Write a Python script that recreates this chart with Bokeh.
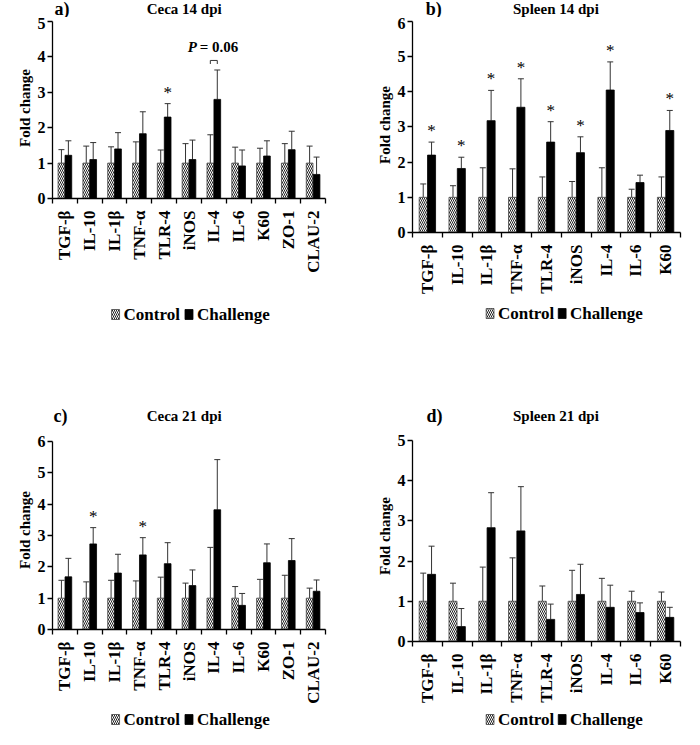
import math
from bokeh.plotting import figure
from bokeh.models import (Range1d, FixedTicker, ColumnDataSource, Whisker, TeeHead)
from bokeh.layouts import column, row
from bokeh.core.properties import value
from bokeh.embed import file_html
from bokeh.resources import INLINE

FONT = "Liberation Serif"

# ---------------- data ----------------
panel_letters = ["a)", "b)", "c)", "d)"]
panel_titles = ["Ceca 14 dpi", "Spleen 14 dpi", "Ceca 21 dpi", "Spleen 21 dpi"]
series_names = ["Control", "Challenge"]

cats_a = ["TGF-β", "IL-10", "IL-1β", "TNF-α", "TLR-4", "iNOS", "IL-4", "IL-6", "K60", "ZO-1", "CLAU-2"]
ctrl_a = [1, 1, 1, 1, 1, 1, 1, 1, 1, 1, 1]
ctrl_err_a = [1.38, 1.48, 1.46, 1.60, 1.37, 1.55, 1.80, 1.45, 1.42, 1.55, 1.48]
chal_a = [1.22, 1.10, 1.40, 1.83, 2.30, 1.10, 2.80, 0.92, 1.20, 1.38, 0.68]
chal_err_a = [1.63, 1.58, 1.86, 2.45, 2.68, 1.65, 3.63, 1.37, 1.63, 1.90, 1.17]
sig_a = [0, 0, 0, 0, 1, 0, 0, 0, 0, 0, 0]

cats_b = ["TGF-β", "IL-10", "IL-1β", "TNF-α", "TLR-4", "iNOS", "IL-4", "IL-6", "K60"]
ctrl_b = [1, 1, 1, 1, 1, 1, 1, 1, 1]
ctrl_err_b = [1.38, 1.33, 1.84, 1.81, 1.58, 1.45, 1.84, 1.23, 1.58]
chal_b = [2.20, 1.82, 3.18, 3.56, 2.57, 2.27, 4.05, 1.42, 2.90]
chal_err_b = [2.57, 2.14, 4.04, 4.37, 3.15, 2.72, 4.85, 1.63, 3.47]
sig_b = [1, 1, 1, 1, 1, 1, 1, 0, 1]

cats_c = ["TGF-β", "IL-10", "IL-1β", "TNF-α", "TLR-4", "iNOS", "IL-4", "IL-6", "K60", "ZO-1", "CLAU-2"]
ctrl_c = [1, 1, 1, 1, 1, 1, 1, 1, 1, 1, 1]
ctrl_err_c = [1.57, 1.52, 1.57, 1.55, 1.67, 1.48, 2.62, 1.37, 1.60, 1.73, 1.32]
chal_c = [1.68, 2.73, 1.80, 2.38, 2.10, 1.40, 3.82, 0.77, 2.13, 2.20, 1.22]
chal_err_c = [2.27, 3.25, 2.40, 2.93, 2.77, 1.90, 5.42, 1.15, 2.73, 2.90, 1.58]
sig_c = [0, 1, 0, 1, 0, 0, 0, 0, 0, 0, 0]

cats_d = ["TGF-β", "IL-10", "IL-1β", "TNF-α", "TLR-4", "iNOS", "IL-4", "IL-6", "K60"]
ctrl_d = [1, 1, 1, 1, 1, 1, 1, 1, 1]
ctrl_err_d = [1.70, 1.45, 1.85, 2.08, 1.38, 1.77, 1.57, 1.25, 1.23]
chal_d = [1.67, 0.37, 2.83, 2.75, 0.55, 1.17, 0.85, 0.72, 0.60]
chal_err_d = [2.37, 0.82, 3.70, 3.85, 0.93, 1.92, 1.40, 0.96, 0.85]
sig_d = [0, 0, 0, 0, 0, 0, 0, 0, 0]

# P-value bracket in panel a
pval_idx_a = 6
pval_bracket_y_a = 3.9
pval_text_a = "= 0.06"

OFF = 0.14
BW = 0.27
W = 342

CTRL_STYLE = dict(fill_color="white", line_color="#444444", line_width=0.8,
                  hatch_pattern="left_diagonal_line", hatch_color="#222222",
                  hatch_scale=4, hatch_weight=1)
CHAL_STYLE = dict(fill_color="black", line_color="black", line_width=0.8)


def make_plot(cats, ctrl, ctrl_err, chal, chal_err, sig, ymax, geo):
    # geo: figure page x/top/height and data-frame page edges (left, right, top(ymax), bottom(0))
    fx, fy, H, L, R, T, B = geo
    n = len(cats)
    unit = (B - T) / ymax
    y_top = (B - fy) / unit
    p = figure(width=W, height=H, x_range=Range1d(-0.5, n - 0.5), title=None,
               y_range=Range1d(0, y_top), output_backend="svg", toolbar_location=None,
               min_border_left=L - fx, min_border_right=fx + W - R, min_border_top=0,
               min_border_bottom=fy + H - B)
    p.outline_line_color = None
    p.xgrid.visible = False
    p.ygrid.visible = False

    idx = list(range(n))
    src_c = ColumnDataSource(dict(x=[i - OFF for i in idx], top=ctrl, upper=ctrl_err))
    src_h = ColumnDataSource(dict(x=[i + OFF for i in idx], top=chal, upper=chal_err))
    p.vbar(x="x", top="top", width=BW, source=src_c, **CTRL_STYLE)
    p.vbar(x="x", top="top", width=BW, source=src_h, **CHAL_STYLE)

    for src in (src_c, src_h):
        p.add_layout(Whisker(source=src, base="x", lower="top", upper="upper",
                             dimension="height", line_color="#333333", line_width=1,
                             upper_head=TeeHead(size=6, line_color="#333333", line_width=1),
                             lower_head=None))

    sx = [i + OFF for i in idx if sig[i]]
    sy = [chal_err[i] for i in idx if sig[i]]
    if sx:
        p.text(x=sx, y=sy, text=["*"] * len(sx), text_align="center",
               text_baseline="bottom", y_offset=-2, text_font=value(FONT),
               text_font_size="17px", text_color="black")

    p.yaxis.ticker = FixedTicker(ticks=list(range(ymax + 1)), minor_ticks=[])
    p.yaxis.bounds = (0, ymax)
    p.yaxis.major_tick_out = 5
    p.yaxis.major_tick_in = 0
    p.yaxis.axis_line_width = 1.3
    p.yaxis.major_tick_line_width = 1.3
    p.yaxis.major_label_text_font = FONT
    p.yaxis.major_label_text_font_style = "bold"
    p.yaxis.major_label_text_font_size = "16px"
    p.yaxis.major_label_text_color = "black"
    p.yaxis.major_label_standoff = 2
    p.yaxis.axis_label = "Fold change"
    p.yaxis.axis_label_text_font = FONT
    p.yaxis.axis_label_text_font_style = "bold"
    p.yaxis.axis_label_text_font_size = "15px"
    p.yaxis.axis_label_text_color = "black"
    p.yaxis.axis_label_standoff = 2

    p.xaxis.ticker = FixedTicker(ticks=idx, minor_ticks=[i - 0.5 for i in range(n + 1)])
    p.xaxis.major_label_overrides = {i: c for i, c in enumerate(cats)}
    p.xaxis.major_tick_out = 0
    p.xaxis.major_tick_in = 0
    p.xaxis.minor_tick_out = 5
    p.xaxis.minor_tick_in = 0
    p.xaxis.minor_tick_line_width = 1.3
    p.xaxis.minor_tick_line_color = "black"
    p.xaxis.axis_line_width = 1.3
    p.xaxis.major_label_orientation = math.pi / 2
    p.xaxis.major_label_standoff = 7
    p.xaxis.major_label_text_font = FONT
    p.xaxis.major_label_text_font_style = "bold"
    p.xaxis.major_label_text_font_size = "17px"
    p.xaxis.major_label_text_color = "black"
    return p


def make_strip(h, letter=None, title=None, legend_at=None):
    # letter/title: (text, x, y) in strip pixels (y downward); legend_at: (left, center_y)
    s = figure(width=W, height=h, x_range=Range1d(0, W), y_range=Range1d(h, 0), title=None,
               x_axis_type=None, y_axis_type=None, output_backend="svg",
               toolbar_location=None, min_border=0)
    s.outline_line_color = None
    s.grid.visible = False
    if letter is not None:
        s.text(x=[letter[1]], y=[letter[2]], text=[letter[0]], text_align="center",
               text_baseline="middle", text_font=value(FONT), text_font_style="bold",
               text_font_size="18px", text_color="black")
    if title is not None:
        s.text(x=[title[1]], y=[title[2]], text=[title[0]], text_align="center",
               text_baseline="middle", text_font=value(FONT), text_font_style="bold",
               text_font_size="15px", text_color="black")
    if legend_at is not None:
        lx, cy = legend_at
        sw = 10
        item_x = [lx, lx + 92]
        s.quad(left=[item_x[0]], right=[item_x[0] + sw], top=[cy - sw / 2],
               bottom=[cy + sw / 2], **CTRL_STYLE)
        s.quad(left=[item_x[1]], right=[item_x[1] + sw], top=[cy - sw / 2],
               bottom=[cy + sw / 2], **CHAL_STYLE)
        s.text(x=[x + sw + 5 for x in item_x], y=[cy, cy], text=series_names,
               text_align="left", text_baseline="middle", text_font=value(FONT),
               text_font_style="bold", text_font_size="17px", text_color="black")
    return s


# ---- left column (page x 8) ----
top_l = make_strip(17, letter=(panel_letters[0], 12, 8.5), title=(panel_titles[0], 165, 8.5))
pa = make_plot(cats_a, ctrl_a, ctrl_err_a, chal_a, chal_err_a, sig_a, 5,
               (8, 25, 280, 42, 338, 29, 206))
bx0 = pval_idx_a - OFF
bx1 = pval_idx_a + OFF
pa.line(x=[bx0, bx0, bx1, bx1],
        y=[pval_bracket_y_a - 0.1, pval_bracket_y_a, pval_bracket_y_a, pval_bracket_y_a - 0.1],
        line_color="#333333", line_width=1)
pa.text(x=[pval_idx_a], y=[pval_bracket_y_a + 0.37], text=["P"], text_align="right",
        text_baseline="middle", x_offset=-17, text_font=value(FONT),
        text_font_style="bold italic", text_font_size="15px", text_color="black")
pa.text(x=[pval_idx_a], y=[pval_bracket_y_a + 0.37], text=[pval_text_a], text_align="left",
        text_baseline="middle", x_offset=-14, text_font=value(FONT), text_font_style="bold",
        text_font_size="15px", text_color="black")
mid_l = make_strip(133, letter=(panel_letters[2], 10, 118), title=(panel_titles[2], 165, 118),
                   legend_at=(74, 17))
pc = make_plot(cats_c, ctrl_c, ctrl_err_c, chal_c, chal_err_c, sig_c, 6,
               (8, 438, 276, 60, 333, 449, 638))
bot_l = make_strip(23, legend_at=(74, 13))

# ---- right column (page x 350) ----
top_r = make_strip(17, letter=(panel_letters[1], 27, 8.5), title=(panel_titles[1], 183, 8.5))
pb = make_plot(cats_b, ctrl_b, ctrl_err_b, chal_b, chal_err_b, sig_b, 6,
               (350, 25, 280, 411, 688, 29, 243))
mid_r = make_strip(133, letter=(panel_letters[3], 28, 118), title=(panel_titles[3], 183, 118),
                   legend_at=(94, 16))
pd = make_plot(cats_d, ctrl_d, ctrl_err_d, chal_d, chal_err_d, sig_d, 5,
               (350, 438, 276, 420, 689, 448, 651))
bot_r = make_strip(23, legend_at=(94, 13))

layout = row(column(top_l, pa, mid_l, pc, bot_l, spacing=0),
             column(top_r, pb, mid_r, pd, bot_r, spacing=0), spacing=0)

open("out.html", "w").write(file_html(layout, INLINE))
